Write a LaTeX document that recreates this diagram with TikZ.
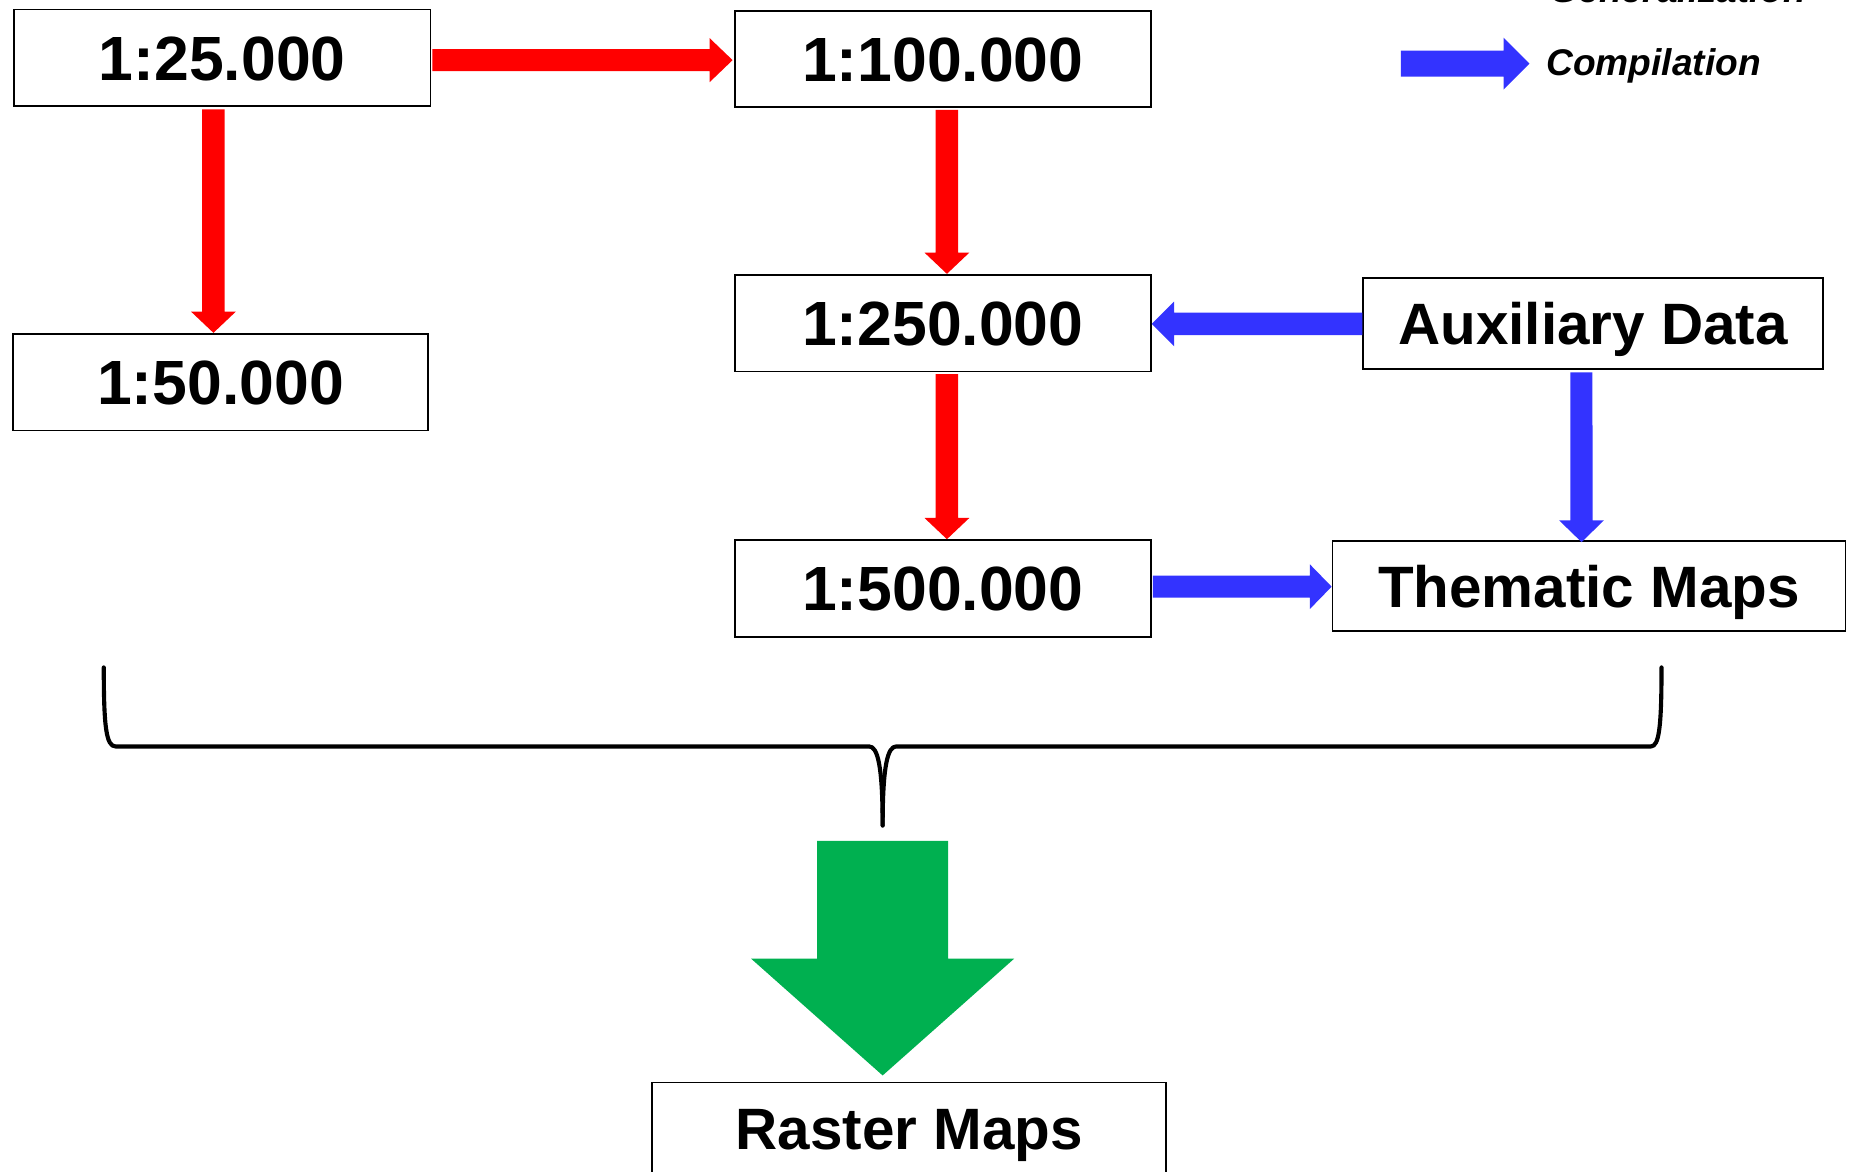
\documentclass[tikz,border=0pt]{standalone}
\usepackage{fontspec}
\setmainfont{Liberation Sans}
\usetikzlibrary{calc}
\definecolor{redc}{RGB}{255,0,0}
\definecolor{bluec}{RGB}{51,51,255}
\definecolor{greenc}{RGB}{0,176,80}
% fat block arrow: #1 colour, #2 start coord, #3 tip coord, #4 half shaft, #5 half head, #6 head length
\newcommand{\fatarr}[6]{%
  \coordinate (fah) at ($(#3)!#6!(#2)$);
  \fill[#1] ($(#2)!#4!90:(#3)$) -- ($(fah)!#4!-90:(#2)$) -- ($(fah)!#5!-90:(#2)$) -- (#3)
    -- ($(fah)!#5!90:(#2)$) -- ($(fah)!#4!90:(#2)$) -- ($(#2)!#4!-90:(#3)$) -- cycle;
}
\begin{document}
\begin{tikzpicture}[x=1pt,y=-1pt,
  box/.style={draw=black, line width=1.5pt, inner sep=0pt, fill=white},
  numbox/.style={box, minimum width=353pt, minimum height=82pt,
    font=\fontsize{53}{60}\selectfont\bfseries, text height=38pt, text depth=0pt},
  namebox/.style={box, minimum height=77pt,
    font=\fontsize{49.5}{56}\selectfont\bfseries, text height=35.5pt, text depth=0pt},
  legtext/.style={anchor=base west, inner sep=0pt, font=\fontsize{31.5}{36}\selectfont\bfseries\itshape},
  bracestyle/.style={draw=black, line width=3.5pt, line cap=round, line join=round}
]
\clip (0,0) rectangle (1568,993.8);

% boxes
\node[numbox] (b25) at (188.5,49) {1:25.000};
\node[numbox, minimum width=352pt] (b50) at (187,324) {1:50.000};
\node[numbox] (b100) at (799.5,50) {1:100.000};
\node[numbox] (b250) at (799.5,274) {1:250.000};
\node[numbox] (b500) at (799.5,499) {1:500.000};
\node[namebox, minimum width=390pt] (aux) at (1351,274.5) {Auxiliary Data};
\node[namebox, minimum width=435pt, minimum height=76pt] (them) at (1347.5,497) {Thematic Maps};
\node[namebox, minimum width=436pt, minimum height=78pt] (raster) at (771,957) {Raster Maps};

% legend
\node[legtext] (lgen) at (1314,2.5) {Generalization};
\node[legtext] (lcomp) at (1311,63.6) {Compilation};
\coordinate (legA) at (1188,54);
\coordinate (legB) at ($(lcomp.base west)+(-14,-9.6)$);
\fatarr{bluec}{legA}{legB}{11pt}{22pt}{22pt}

% red (generalization) arrows
\coordinate (r1a) at ($(b25.east)+(1,2)$);
\coordinate (r1b) at ($(b100.west)+(-1,1)$);
\fatarr{redc}{r1a}{r1b}{9.25pt}{18.7pt}{19.5pt}
\coordinate (r2a) at ($(b25.south)+(-7.5,2)$);
\coordinate (r2b) at ($(b50.north)+(-6,0)$);
\fatarr{redc}{r2a}{r2b}{9.5pt}{19pt}{18pt}
\coordinate (r3a) at ($(b100.south)+(3.5,1.5)$);
\coordinate (r3b) at ($(b250.north)+(3.5,0)$);
\fatarr{redc}{r3a}{r3b}{9.5pt}{19pt}{18pt}
\coordinate (r4a) at ($(b250.south)+(3.5,1.5)$);
\coordinate (r4b) at ($(b500.north)+(3.5,0)$);
\fatarr{redc}{r4a}{r4b}{9.5pt}{19pt}{18pt}

% blue (compilation) arrows
\coordinate (u1a) at ($(aux.west)+(0,0.2)$);
\coordinate (u1b) at ($(b250.east)+(0,0.7)$);
\fatarr{bluec}{u1a}{u1b}{9.5pt}{19pt}{19pt}
\coordinate (u2a) at ($(aux.south)+(-10,2)$);
\coordinate (u2b) at ($(them.north)+(-6.3,1.5)$);
\fatarr{bluec}{u2a}{u2b}{9.4pt}{19pt}{18.5pt}
\coordinate (u3a) at ($(b500.east)+(1,-1.5)$);
\coordinate (u3b) at ($(them.west)+(0,0.5)$);
\fatarr{bluec}{u3a}{u3b}{9.3pt}{19pt}{18.5pt}

% brace
\coordinate (brL) at (88,566);
\coordinate (brR) at (1409,566);
\coordinate (brT) at (748.5,700);
\draw[bracestyle] (brL) .. controls (88,616) and (90,633) .. (98,633) -- (737,633)
  .. controls (744,633) and (748.5,648) .. (brT);
\draw[bracestyle] (brR) .. controls (1409,616) and (1407,633) .. (1400,633) -- (760,633)
  .. controls (753,633) and (748.5,648) .. (brT);

% green arrow
\coordinate (gA) at (748.5,713);
\coordinate (gB) at (748.5,912);
\fatarr{greenc}{gA}{gB}{55.5pt}{111.5pt}{99pt}
\end{tikzpicture}
\end{document}
